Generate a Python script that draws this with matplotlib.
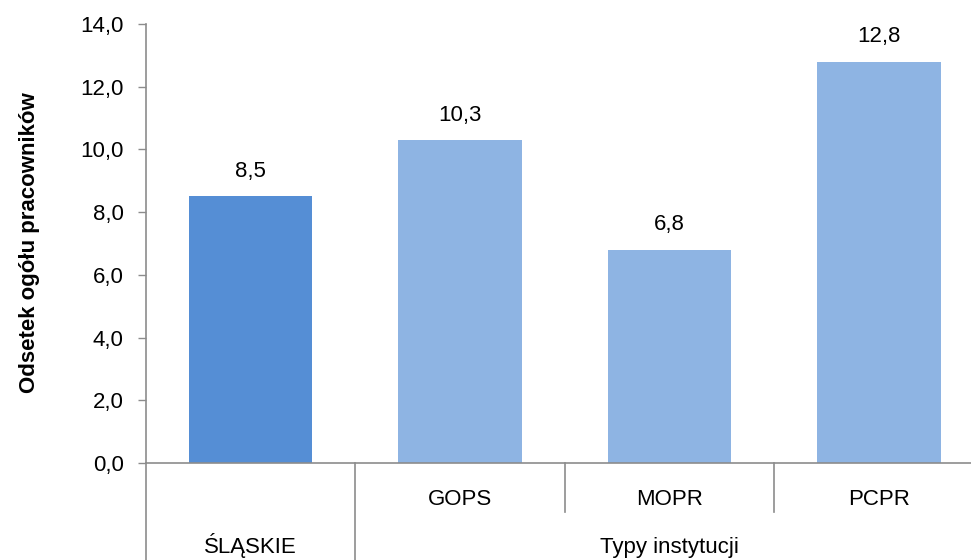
import matplotlib
matplotlib.use("Agg")
import matplotlib.pyplot as plt

categories = ["ŚLĄSKIE", "GOPS", "MOPR", "PCPR"]
values = [8.5, 10.3, 6.8, 12.8]
group_labels = ["ŚLĄSKIE", "Typy instytucji"]
yticks = [0, 2, 4, 6, 8, 10, 12, 14]
ylabel = "Odsetek ogółu pracowników"

plt.rcParams['font.family'] = ['Liberation Sans', 'DejaVu Sans']
FS = 16

W, H = 971, 560
fig = plt.figure(figsize=(W / 100, H / 100), dpi=100)
ax = fig.add_axes([146 / W, (H - 463) / H, 837.5 / W, 439 / H])

colors = ["#558ED5"] + ["#8EB4E3"] * 3
x = [i + 0.5 for i in range(len(categories))]
bars = ax.bar(x, values, width=0.59, color=colors, zorder=2)

for xi, v in zip(x, values):
    ax.annotate(f"{v:.1f}".replace(".", ","), (xi, v), xytext=(0, 18),
                textcoords="offset points", ha="center", va="center",
                fontsize=FS, color="#000000")

ax.set_xlim(0, 4)
ax.set_ylim(0, 14)
ax.set_yticks(yticks)
ax.set_yticklabels([f"{t:.1f}".replace(".", ",") for t in yticks], fontsize=FS)
ax.set_xticks([])
ax.tick_params(axis="y", direction="out", length=6, width=1, color="#8C8C8C", pad=10)

grey = "#8C8C8C"
for s in ["top", "right"]:
    ax.spines[s].set_visible(False)
for s in ["left", "bottom"]:
    ax.spines[s].set_color(grey)
    ax.spines[s].set_linewidth(1.2)

tr = ax.get_xaxis_transform()
full = -97 / 439
short = -(512 - 463) / 439
ax.plot([0, 0], [0, full], transform=tr, color=grey, lw=1.2, clip_on=False)
ax.plot([1, 1], [0, full], transform=tr, color=grey, lw=1.2, clip_on=False)
ax.plot([4, 4], [0, full], transform=tr, color=grey, lw=1.2, clip_on=False)
for d in [2, 3]:
    ax.plot([d, d], [0, short], transform=tr, color=grey, lw=1.2, clip_on=False)

inner_y = -(505 - 463) / 439
outer_y = -(553 - 463) / 439
for xi, c in zip(x[1:], categories[1:]):
    ax.text(xi, inner_y, c, transform=tr, ha="center", va="baseline", fontsize=FS)
ax.text(0.5, outer_y, group_labels[0], transform=tr, ha="center", va="baseline", fontsize=FS)
ax.text(2.5, outer_y, group_labels[1], transform=tr, ha="center", va="baseline", fontsize=FS)

fig.text(30 / W, (H - 243) / H, ylabel, rotation=90, ha="center", va="center",
         fontsize=FS, fontweight="bold")

fig.savefig("out.png", dpi=100)
